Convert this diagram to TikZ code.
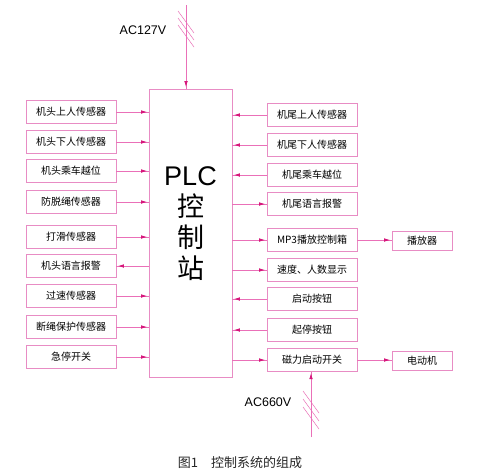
\documentclass[tikz,border=0pt]{standalone}
\usepackage{fontspec}
\setmainfont{Liberation Sans}
\newfontfamily\cjk{Noto Sans CJK SC}
\usetikzlibrary{arrows.meta}
\usetikzlibrary{decorations.markings}
\definecolor{wirepink}{RGB}{234,112,184}
\definecolor{tippink}{RGB}{214,24,124}
\definecolor{boxpink}{RGB}{232,140,196}

\begin{document}
\begin{tikzpicture}[x=1pt, y=-1pt,
		every node/.style={font=\cjk\fontsize{10}{12}\selectfont},
		unit/.style={draw=boxpink, line width=0.8pt, minimum width=90pt, minimum height=22.5pt, inner sep=0pt},
		wire/.style={draw=wirepink, line width=0.7pt, postaction={decorate},
			decoration={markings, mark=at position -1.5pt with {\arrow[tippink]{Latex[length=6pt,width=3.6pt]}}}},
		hatch/.style={draw=wirepink, line width=0.5pt}]
		\useasboundingbox[fill=white] (0,0) rectangle (490,474);

		% PLC station
		\node[draw=boxpink, line width=0.8pt, minimum width=83pt, minimum height=288pt, align=center,
			font=\fontsize{27}{31}\selectfont] (plc) at (190.5,233)
			{PLC\\{\cjk 控}\\{\cjk 制}\\{\cjk 站}\\[-10pt]};

		% Left column
		\foreach \nm/\yy/\txt in {l1/112/机头上人传感器, l2/142/机头下人传感器, l3/171/机头乘车越位,
				l4/202/防脱绳传感器, l5/237/打滑传感器, l6/266/机头语言报警,
				l7/296/过速传感器, l8/327/断绳保护传感器, l9/357/急停开关}{
			\node[unit] (\nm) at (71,\yy) {\txt};
		}
		\foreach \nm in {l1,l2,l3,l4,l5,l7,l8,l9}{
			\draw[wire] (\nm.east) -- (\nm.east -| plc.west);
		}
		\draw[wire] (l6.east -| plc.west) -- (l6.east);

		% Right column
		\foreach \nm/\yy/\txt in {r1/115/机尾上人传感器, r2/145/机尾下人传感器, r3/175/机尾乘车越位,
				r4/204/机尾语言报警, r5/240/MP3播放控制箱, r6/270/速度、人数显示,
				r7/299/启动按钮, r8/330/起停按钮, r9/360/磁力启动开关}{
			\node[unit] (\nm) at (312,\yy) {\txt};
		}
		\foreach \nm in {r1,r2,r3,r7,r8}{
			\draw[wire] (\nm.west) -- (\nm.west -| plc.east);
		}
		\foreach \nm in {r4,r5,r6,r9}{
			\draw[wire] (\nm.west -| plc.east) -- (\nm.west);
		}

		% Outputs
		\node[unit, minimum width=60pt, minimum height=19pt] (player) at (422,241) {播放器};
		\node[unit, minimum width=60pt, minimum height=19pt] (motor) at (422,361) {电动机};
		\draw[wire] (r5.east) -- (r5.east -| player.west);
		\draw[wire] (r9.east) -- (r9.east -| motor.west);

		% Supplies
		\coordinate (ac127) at (186,5);
		\draw[wire] (ac127) -- (ac127 |- plc.north);
		\foreach \yy in {23,30,37}{
			\draw[hatch] (178,\yy-12) -- (194,\yy+10);
		}
		\node[font=\fontsize{12.5}{14}\selectfont] (v127) at (143,30) {AC127V};

		\coordinate (ac660) at (311,437);
		\draw[wire] (ac660) -- (ac660 |- r9.south);
		\foreach \yy in {403,411,419}{
			\draw[hatch] (303,\yy-12) -- (319,\yy+10);
		}
		\node[font=\fontsize{12.5}{14}\selectfont] (v660) at (268,402) {AC660V};

		% Caption
		\node[text=black!85, font=\cjk\fontsize{13}{15}\selectfont] (cap) at (240,463) {图1\quad 控制系统的组成};
	\end{tikzpicture}
\end{document}
